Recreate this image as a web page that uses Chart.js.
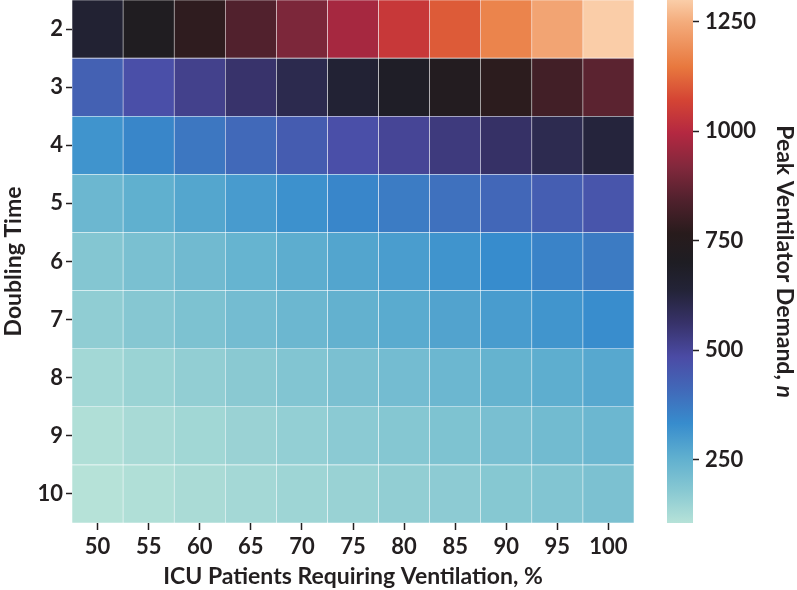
<!DOCTYPE html>
<html lang="en">
<head>
  <meta charset="UTF-8" />
  <title>Peak Ventilator Demand</title>
  <script src="https://cdn.jsdelivr.net/npm/chart.js"></script>
  <style>
    html, body { margin: 0; padding: 0; background: #fff; }
    #wrap { position: relative; width: 797px; height: 590px; }
    #heat { position: absolute; left: 0; top: 0; width: 650px; height: 590px; }
    #bar { position: absolute; left: 650px; top: 0; width: 147px; height: 590px; }
  </style>
</head>
<body>
  <div id="wrap">
    <div id="heat"><canvas id="heatChart"></canvas></div>
    <div id="bar"><canvas id="barChart"></canvas></div>
  </div>

  <script>
    // categories
    const ventPct = ['50', '55', '60', '65', '70', '75', '80', '85', '90', '95', '100'];
    const doublingTimes = [2, 3, 4, 5, 6, 7, 8, 9, 10];

    // peak ventilator demand per doubling time (rows)
    const demandDT2  = [650, 715, 780, 845, 910, 975, 1040, 1105, 1170, 1235, 1300];
    const demandDT3  = [430, 473, 516, 559, 602, 645, 688, 731, 774, 817, 860];
    const demandDT4  = [315, 347, 378, 410, 441, 473, 504, 536, 567, 599, 630];
    const demandDT5  = [230, 253, 276, 299, 322, 345, 368, 391, 414, 437, 460];
    const demandDT6  = [185, 204, 222, 241, 259, 278, 296, 315, 333, 352, 370];
    const demandDT7  = [165, 182, 198, 215, 231, 248, 264, 281, 297, 314, 330];
    const demandDT8  = [135, 149, 162, 176, 189, 203, 216, 230, 243, 257, 270];
    const demandDT9  = [115, 127, 138, 150, 161, 173, 184, 196, 207, 219, 230];
    const demandDT10 = [105, 114, 124, 133, 143, 152, 162, 171, 181, 190, 200];
    const demandRows = [demandDT2, demandDT3, demandDT4, demandDT5, demandDT6,
                        demandDT7, demandDT8, demandDT9, demandDT10];

    // colour bar
    const colorbarTicks = [250, 500, 750, 1000, 1250];
    const vMin = 105;
    const vMax = 1300;

    // icefire-like colour map, as sampled from the printed colour bar
    const cmapStops = [
      [105, [182, 226, 216]], [180, [135, 200, 210]], [255, [95, 175, 207]],
      [333, [55, 140, 205]], [409, [65, 105, 185]], [484, [75, 75, 165]],
      [562, [55, 50, 105]], [637, [35, 35, 55]], [700, [30, 29, 35]],
      [767, [40, 27, 28]], [843, [80, 33, 45]], [919, [130, 40, 60]],
      [996, [180, 40, 65]], [1071, [212, 68, 52]], [1147, [232, 120, 62]],
      [1250, [244, 172, 124]], [1300, [250, 205, 168]]
    ];

    function colorFor(v) {
      if (v <= cmapStops[0][0]) return rgb(cmapStops[0][1]);
      for (let i = 1; i < cmapStops.length; i++) {
        const [v1, c1] = cmapStops[i];
        if (v <= v1) {
          const [v0, c0] = cmapStops[i - 1];
          const t = (v - v0) / (v1 - v0);
          return rgb(c0.map((c, k) => c + (c1[k] - c) * t));
        }
      }
      return rgb(cmapStops[cmapStops.length - 1][1]);
    }
    function rgb(c) {
      return `rgb(${Math.round(c[0])}, ${Math.round(c[1])}, ${Math.round(c[2])})`;
    }

    const textColor = '#231f20';
    const family = 'Lato, "Open Sans", sans-serif';
    const tickFont = { family, size: 22, weight: 'bold' };
    const titleFont = { family, size: 23, weight: 'bold' };

    // drop the half-label padding Chart.js adds at the ends of each axis
    function noEdgePadding(s) {
      s.paddingTop = 0; s.paddingBottom = 0;
      s.paddingLeft = 0; s.paddingRight = 0;
    }

    // heat map: one floating-bar dataset per doubling time
    const datasets = doublingTimes.map((d, i) => ({
      label: 'Doubling time ' + d,
      data: ventPct.map(() => [d - 0.5, d + 0.5]),
      backgroundColor: demandRows[i].map(colorFor),
      borderColor: 'rgba(255,255,255,0.3)',
      borderWidth: 0.6,
      borderSkipped: false,
      barPercentage: 1,
      categoryPercentage: 1
    }));

    new Chart(document.getElementById('heatChart'), {
      type: 'bar',
      data: { labels: ventPct, datasets },
      options: {
        responsive: true,
        maintainAspectRatio: false,
        animation: false,
        layout: { padding: { left: 0, right: 16, top: 0, bottom: 0 } },
        plugins: { legend: { display: false }, tooltip: { enabled: false } },
        scales: {
          x: {
            stacked: true,
            grid: { drawOnChartArea: false, offset: false, tickLength: 7, tickColor: textColor, tickWidth: 1.5 },
            border: { display: false },
            ticks: { color: textColor, font: tickFont, padding: 4, maxRotation: 0 },
            title: {
              display: true, text: 'ICU Patients Requiring Ventilation, %',
              color: textColor, font: titleFont, padding: { top: 0, bottom: 0 }
            },
            afterFit: s => { s.height = 67; noEdgePadding(s); }
          },
          y: {
            type: 'linear',
            reverse: true,
            min: 1.5,
            max: 10.5,
            afterBuildTicks: s => { s.ticks = doublingTimes.map(v => ({ value: v })); },
            grid: { drawOnChartArea: false, tickLength: 6, tickColor: textColor, tickWidth: 1.5 },
            border: { display: false },
            ticks: { color: textColor, font: tickFont, padding: 3 },
            title: {
              display: true, text: 'Doubling Time',
              color: textColor, font: titleFont, padding: { top: 0, bottom: 0 }
            },
            afterFit: s => { s.width = 72; noEdgePadding(s); }
          }
        }
      }
    });

    // colour bar: one floating bar filled with the colour-map gradient
    function barGradient(chart) {
      const { ctx, chartArea, scales } = chart;
      if (!chartArea) return colorFor(vMax);
      const yTop = scales.y.getPixelForValue(vMax);
      const yBot = scales.y.getPixelForValue(vMin);
      const g = ctx.createLinearGradient(0, yBot, 0, yTop);
      cmapStops.forEach(([v, c]) => g.addColorStop((v - vMin) / (vMax - vMin), rgb(c)));
      return g;
    }

    const colorbarTitle = {
      id: 'colorbarTitle',
      afterDraw(chart) {
        const { ctx, chartArea } = chart;
        const main = 'Peak Ventilator Demand, ';
        const ital = 'n';
        const f1 = `bold 23px ${family}`;
        const f2 = `italic bold 23px ${family}`;
        ctx.save();
        ctx.font = f1;
        const w1 = ctx.measureText(main).width;
        ctx.font = f2;
        const w2 = ctx.measureText(ital).width;
        ctx.translate(134, (chartArea.top + chartArea.bottom) / 2);
        ctx.rotate(Math.PI / 2);
        ctx.fillStyle = textColor;
        ctx.textBaseline = 'middle';
        ctx.textAlign = 'left';
        const x0 = -(w1 + w2) / 2;
        ctx.font = f1;
        ctx.fillText(main, x0, 0);
        ctx.font = f2;
        ctx.fillText(ital, x0 + w1, 0);
        ctx.restore();
      }
    };

    new Chart(document.getElementById('barChart'), {
      type: 'bar',
      data: {
        labels: [''],
        datasets: [{
          data: [[vMin, vMax]],
          backgroundColor: c => barGradient(c.chart),
          borderWidth: 0,
          barPercentage: 1,
          categoryPercentage: 1
        }]
      },
      options: {
        responsive: true,
        maintainAspectRatio: false,
        animation: false,
        layout: { padding: { left: 17, right: 0, top: 0, bottom: 67 } },
        plugins: { legend: { display: false }, tooltip: { enabled: false } },
        scales: {
          x: { display: false },
          y: {
            position: 'right',
            min: vMin,
            max: vMax,
            afterBuildTicks: s => { s.ticks = colorbarTicks.map(v => ({ value: v })); },
            grid: { drawOnChartArea: false, tickLength: 6, tickColor: textColor, tickWidth: 1.5 },
            border: { display: false },
            ticks: { color: textColor, font: tickFont, padding: 6, callback: v => String(v) },
            afterFit: s => { s.width = 104; noEdgePadding(s); }
          }
        }
      },
      plugins: [colorbarTitle]
    });
  </script>
</body>
</html>
